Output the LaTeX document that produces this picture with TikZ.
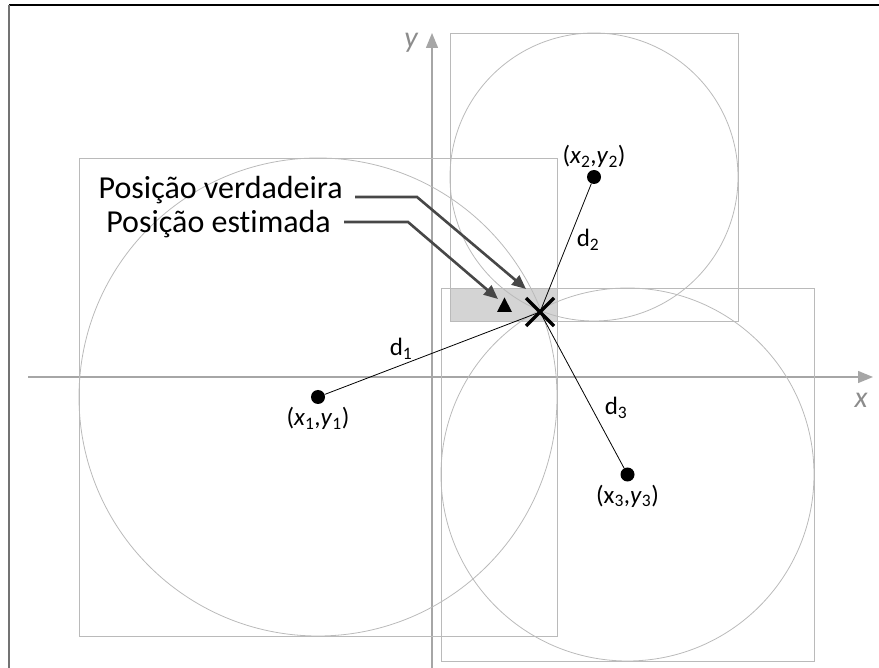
\documentclass[tikz,border=0pt]{standalone}
\usepackage{fontspec}
\setmainfont[Ligatures=NoCommon]{Carlito}
\usetikzlibrary{arrows.meta,positioning,calc}

\begin{document}
\begin{tikzpicture}[
    x=1pt, y=-1pt,
    guide/.style={draw=black!27, line width=0.8pt},
    axis/.style={draw=black!35, line width=1.3pt, -{Triangle[length=15pt,width=12pt]}},
    anchorpt/.style={circle, fill=black, minimum size=14pt, inner sep=0pt},
    coordlabel/.style={font=\fontsize{25}{28}\selectfont, inner sep=1pt},
    axislabel/.style={font=\fontsize{30}{33}\selectfont\itshape, text=black!45},
    caption/.style={font=\fontsize{32}{36}\selectfont, anchor=east, inner sep=0pt},
    callout/.style={draw=black!72, line width=2.6pt, -{Triangle[length=14pt,width=12pt]}},
]
\useasboundingbox (0,0) rectangle (879,668);

% frame
\draw[black, line width=1.5pt] (9,5) -- (879,5);
\draw[black!55, line width=2.5pt] (9,5) -- (9,668);

% anchors and estimate
\coordinate (p1) at (318,397);
\coordinate (p2) at (594,177);
\coordinate (p3) at (627.5,474.5);
\coordinate (xm) at (540,312);
\coordinate (tri) at (504.5,305);

% overlap of the squares
\fill[black!17] (450,288.5) rectangle (557,321);
\draw[guide] (450,288.5) rectangle (557,321);

% axes
\draw[axis] (28,377) -- (873,377);
\draw[axis] (432,668) -- (432,33);
\node[axislabel] (xlab) at (861,400) {x};
\node[axislabel] (ylab) at (411,43) {y};

% circles and their squares
\draw[guide] (p1) circle[radius=239pt];
\draw[guide] ($(p1)+(-239,-239)$) rectangle ($(p1)+(239,239)$);
\draw[guide] (p2) circle[radius=144pt];
\draw[guide] ($(p2)+(-144,-144)$) rectangle ($(p2)+(144,144)$);
\draw[guide] (p3) circle[radius=186.5pt];
\draw[guide] ($(p3)+(-186.5,-186.5)$) rectangle ($(p3)+(186.5,186.5)$);

% distances
\node[anchorpt] (a1) at (p1) {};
\node[anchorpt] (a2) at (p2) {};
\node[anchorpt] (a3) at (p3) {};
\draw[line width=0.8pt] (a1) -- (xm);
\draw[line width=0.8pt] (a2) -- (xm);
\draw[line width=0.8pt] (a3) -- (xm);
\node[coordlabel] (d1) at (401,349) {d\textsubscript{1}};
\node[coordlabel] (d2) at (588,240) {d\textsubscript{2}};
\node[coordlabel] (d3) at (616,408) {d\textsubscript{3}};
\node[coordlabel, below=2pt of a1] (l1) {(\textit{x}\textsubscript{1},\textit{y}\textsubscript{1})};
\node[coordlabel, above=1pt of a2] (l2) {(\textit{x}\textsubscript{2},\textit{y}\textsubscript{2})};
\node[coordlabel, below=2pt of a3] (l3) {(x\textsubscript{3},\textit{y}\textsubscript{3})};

% true and estimated positions
\fill (tri) ++(0,-7.5) -- ++(7.5,14.5) -- ++(-15,0) -- cycle;
\draw[line width=3.5pt] ($(xm)+(-14,-14)$) -- ($(xm)+(14,14)$);
\draw[line width=3.5pt] ($(xm)+(-14,14)$) -- ($(xm)+(14,-14)$);

\node[caption] (truecap) at (343,190) {Posição verdadeira};
\node[caption] (estcap) at (331,224) {Posição estimada};
\coordinate (truetip) at (526,289);
\coordinate (esttip) at (498,299);
\draw[callout] (355,197) -- (417,197) -- (truetip);
\draw[callout] (344,222) -- (408,222) -- (esttip);

\end{tikzpicture}
\end{document}
